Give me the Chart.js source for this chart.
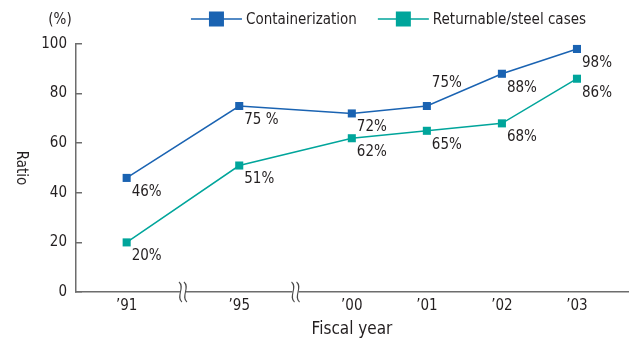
<!DOCTYPE html>
<html>
<head>
<meta charset="utf-8">
<script src="https://cdn.jsdelivr.net/npm/chart.js@4.4.1/dist/chart.umd.min.js"></script>
<style>
html, body { margin: 0; padding: 0; background: #fff; }
</style>
</head>
<body>
<canvas id="myChart" width="634" height="342"></canvas>
<script>
// fiscal years on the x axis; the axis is broken before '95 and '00
var years = ["’91", "’95", "’00", "’01", "’02", "’03"];
var breakBefore = [false, true, true, false, false, false];
var containerization = [46, 75, 72, 75, 88, 98];
var steelCases = [20, 51, 62, 65, 68, 86];
var yTicks = [0, 20, 40, 60, 80, 100];

var FONT = "'Liberation Sans Narrow', 'DejaVu Sans Condensed', sans-serif";
var TEXT = '#231f20';
var AXIS = '#6d6d6d';
var BLUE = '#1a63b2';
var TEAL = '#00a59b';

// x positions: one unit per year, 1.5 across a break
var xPos = [];
var p = 0;
for (var i = 0; i < years.length; i++) {
    if (i > 0) p += breakBefore[i] ? 1.5 : 1;
    xPos.push(p);
}

function points(values) {
    return values.map(function (v, i) { return { x: xPos[i], y: v }; });
}

// value labels, below-right of each point unless listed in labelAbove
var valueLabels = {
    id: 'valueLabels',
    afterDatasetsDraw: function (chart) {
        var ctx = chart.ctx;
        ctx.save();
        ctx.font = '15px ' + FONT;
        ctx.fillStyle = TEXT;
        ctx.textAlign = 'left';
        ctx.textBaseline = 'middle';
        chart.data.datasets.forEach(function (ds, di) {
            var meta = chart.getDatasetMeta(di);
            meta.data.forEach(function (pt, j) {
                var above = (ds.labelAbove || []).indexOf(j) >= 0;
                var txt = ds.data[j].y + (ds.suffix ? ds.suffix[j] : '%');
                ctx.fillText(txt, pt.x + 5, pt.y + (above ? -23 : 14));
            });
        });
        ctx.restore();
    }
};

function drawBreak(ctx, x, y) {
    ctx.fillStyle = '#fff';
    ctx.fillRect(x - 3, y - 2, 6, 4);
    ctx.strokeStyle = '#4a4a4a';
    ctx.lineWidth = 1.1;
    [-2.5, 2.5].forEach(function (dx) {
        var cx = x + dx;
        ctx.beginPath();
        ctx.moveTo(cx - 1.5, y - 10);
        ctx.bezierCurveTo(cx + 5, y - 5, cx - 5, y + 5, cx + 1.5, y + 10);
        ctx.stroke();
    });
}

var extras = {
    id: 'extras',
    afterDraw: function (chart) {
        var ctx = chart.ctx;
        var xs = chart.scales.x;
        var ys = chart.scales.y;
        var area = chart.chartArea;
        ctx.save();

        // axis breaks
        for (var i = 1; i < xPos.length; i++) {
            if (breakBefore[i]) {
                drawBreak(ctx, xs.getPixelForValue((xPos[i - 1] + xPos[i]) / 2), ys.getPixelForValue(0));
            }
        }

        // unit and axis title
        ctx.fillStyle = TEXT;
        ctx.font = '15px ' + FONT;
        ctx.textAlign = 'center';
        ctx.textBaseline = 'middle';
        ctx.fillText('(%)', 60, 20);
        ctx.save();
        ctx.translate(21, (area.top + area.bottom) / 2);
        ctx.rotate(Math.PI / 2);
        ctx.fillText('Ratio', 0, 0);
        ctx.restore();

        // legend: line with a square marker, then the label
        ctx.font = '15px ' + FONT;
        var lineLen = 51, gapText = 4, gapItem = 21, box = 15;
        var items = chart.data.datasets.map(function (ds) {
            return { label: ds.label, color: ds.borderColor, w: ctx.measureText(ds.label).width };
        });
        var total = 0;
        items.forEach(function (it, k) { total += lineLen + gapText + it.w + (k ? gapItem : 0); });
        var lx = area.right - 42 - total;
        var ly = 19;
        items.forEach(function (it) {
            ctx.strokeStyle = it.color;
            ctx.lineWidth = 1.5;
            ctx.beginPath();
            ctx.moveTo(lx, ly);
            ctx.lineTo(lx + lineLen, ly);
            ctx.stroke();
            ctx.fillStyle = it.color;
            ctx.fillRect(lx + lineLen / 2 - box / 2, ly - box / 2, box, box);
            ctx.fillStyle = TEXT;
            ctx.textAlign = 'left';
            ctx.fillText(it.label, lx + lineLen + gapText, ly + 1);
            lx += lineLen + gapText + it.w + gapItem;
        });
        ctx.restore();
    }
};

var chartdata = {
    datasets: [
        {
            label: 'Containerization',
            data: points(containerization),
            borderColor: BLUE,
            backgroundColor: BLUE,
            labelAbove: [3],
            suffix: ['%', ' %', '%', '%', '%', '%']
        },
        {
            label: 'Returnable/steel cases',
            data: points(steelCases),
            borderColor: TEAL,
            backgroundColor: TEAL
        }
    ]
};

Chart.defaults.font.family = FONT;

new Chart(document.getElementById('myChart'), {
    type: 'line',
    data: chartdata,
    options: {
        responsive: false,
        animation: false,
        devicePixelRatio: 1,
        layout: { padding: { top: 44, right: 6, left: 0, bottom: 0 } },
        elements: {
            line: { borderWidth: 1.5, tension: 0, fill: false },
            point: { pointStyle: 'rect', radius: 5.7, borderWidth: 0, hoverRadius: 5.7 }
        },
        plugins: {
            legend: { display: false },
            tooltip: { enabled: false }
        },
        scales: {
            x: {
                type: 'linear',
                min: xPos[0] - 0.675,
                max: xPos[xPos.length - 1] + 0.68,
                afterBuildTicks: function (scale) {
                    scale.ticks = xPos.map(function (v) { return { value: v }; });
                },
                afterFit: function (scale) { scale.height = 50; },
                ticks: {
                    autoSkip: false,
                    maxRotation: 0,
                    padding: 5,
                    color: TEXT,
                    font: { size: 15 },
                    callback: function (v) {
                        var k = xPos.indexOf(v);
                        return k < 0 ? '' : years[k];
                    }
                },
                grid: { drawOnChartArea: false, drawTicks: false },
                border: { color: AXIS, width: 1.5 },
                title: {
                    display: true,
                    text: 'Fiscal year',
                    color: TEXT,
                    font: { size: 17 },
                    padding: { top: 0, bottom: 2 }
                }
            },
            y: {
                min: 0,
                max: 100,
                afterBuildTicks: function (scale) {
                    scale.ticks = yTicks.map(function (v) { return { value: v }; });
                },
                afterFit: function (scale) { scale.width = 76; },
                ticks: { padding: 15, color: TEXT, font: { size: 15 } },
                grid: { drawOnChartArea: false, tickLength: -6, color: AXIS, lineWidth: 1.5 },
                border: { color: AXIS, width: 1.5 }
            }
        }
    },
    plugins: [valueLabels, extras]
});
</script>
</body>
</html>
